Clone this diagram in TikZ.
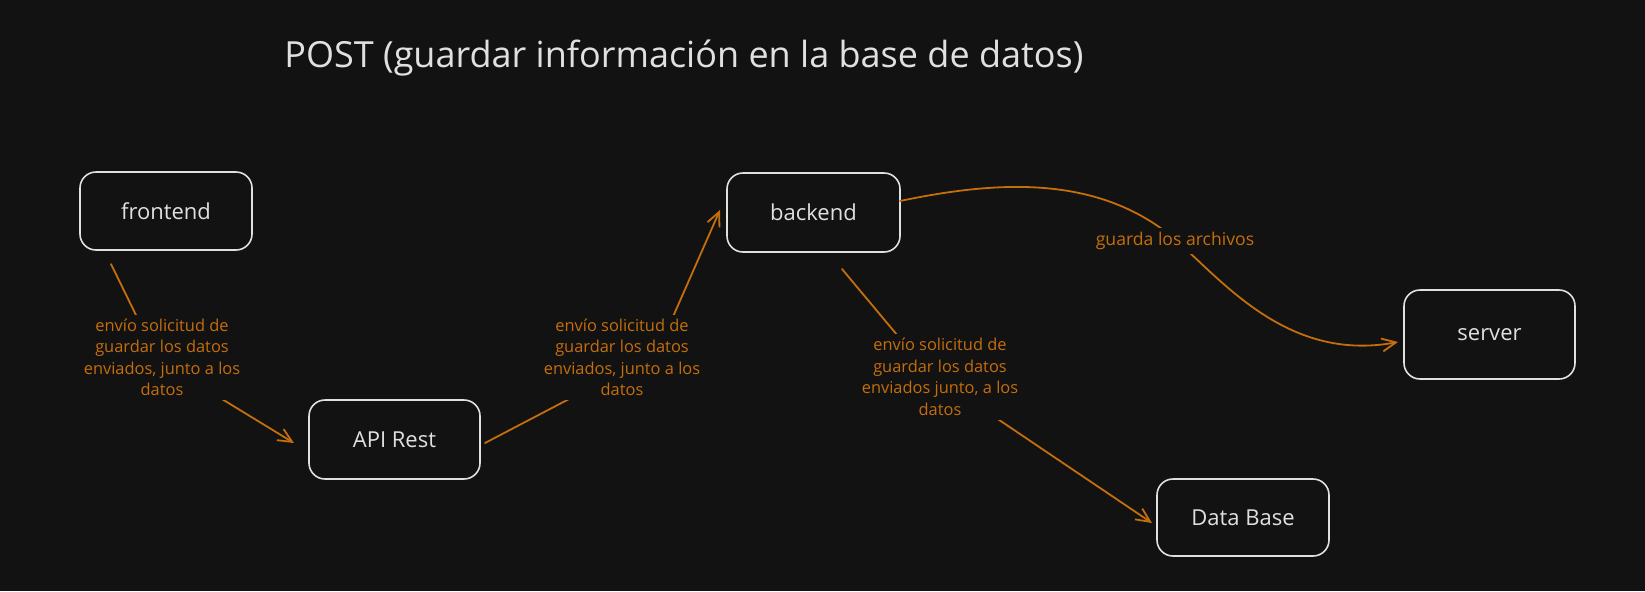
\documentclass[tikz,border=0pt]{standalone}
\usepackage{fontspec}
\setmainfont{Open Sans}
\usetikzlibrary{arrows.meta,calc}
\definecolor{bg}{HTML}{121212}
\definecolor{ink}{HTML}{E0E0E0}
\definecolor{amber}{RGB}{196,110,12}
\begin{document}
\begin{tikzpicture}[x=0.5pt,y=-0.5pt,
  box/.style={draw=ink, line width=0.8pt, rounded corners=8pt, fill=bg, text=ink,
              font=\fontsize{11}{13}\selectfont, inner sep=0pt, outer sep=0pt},
  lbl/.style={fill=bg, text=amber, align=center, font=\fontsize{8.2}{10.75}\selectfont, inner sep=2pt},
  link/.style={draw=amber, line width=0.9pt, line cap=round, line join=round,
               -{Straight Barb[length=7pt,width=6.5pt]}}]
\fill[bg] (0,0) rectangle (1645,591);
\useasboundingbox (0,0) rectangle (1645,591);

\node[anchor=base west, text=ink, font=\fontsize{18}{21}\selectfont, inner sep=0pt] (title) at (284,67)
  {POST (guardar información en la base de datos)};

\node[box, minimum width=86pt, minimum height=39pt] (fe) at (166,211) {frontend};
\node[box, minimum width=85.5pt, minimum height=39.5pt] (api) at (394.5,439.5) {API Rest};
\node[box, minimum width=86.5pt, minimum height=39.5pt] (be) at (813.5,212.5) {backend};
\node[box, minimum width=85.5pt, minimum height=44.5pt] (sv) at (1489.5,334.5) {server};
\node[box, minimum width=86pt, minimum height=38.5pt] (db) at (1243,517.5) {Data Base};

\coordinate (v1) at (158,360);
\coordinate (v2) at (657,353);
\coordinate (v3) at (928,372);
\coordinate (v4) at (1176,240);

\draw[link] ([shift={(-55,14)}]fe.south) -- (v1) -- ([shift={(-15,3.5)}]api.west);
\draw[link] ([shift={(5,3.5)}]api.east) -- (v2) -- ([shift={(-7,-2.5)}]be.west);
\draw[link] ([shift={(28.5,17)}]be.south) -- (v3) -- ([shift={(-5,5.5)}]db.west);
\draw[link] ([shift={(0,-11.5)}]be.east) .. controls (1000,180) and (1100,175) .. (v4)
  .. controls (1226,285) and (1290,362) .. ([shift={(-6,7.5)}]sv.west);

\node[lbl] (l1) at (162,357.5) {envío solicitud de\\guardar los datos\\enviados, junto a los\\datos};
\node[lbl] (l2) at (622,357.5) {envío solicitud de\\guardar los datos\\enviados, junto a los\\datos};
\node[lbl] (l3) at (940,377) {envío solicitud de\\guardar los datos\\enviados junto, a los\\datos};
\node[lbl, font=\fontsize{8.8}{10.75}\selectfont] (l4) at (1175,241) {guarda los archivos};
\end{tikzpicture}
\end{document}
